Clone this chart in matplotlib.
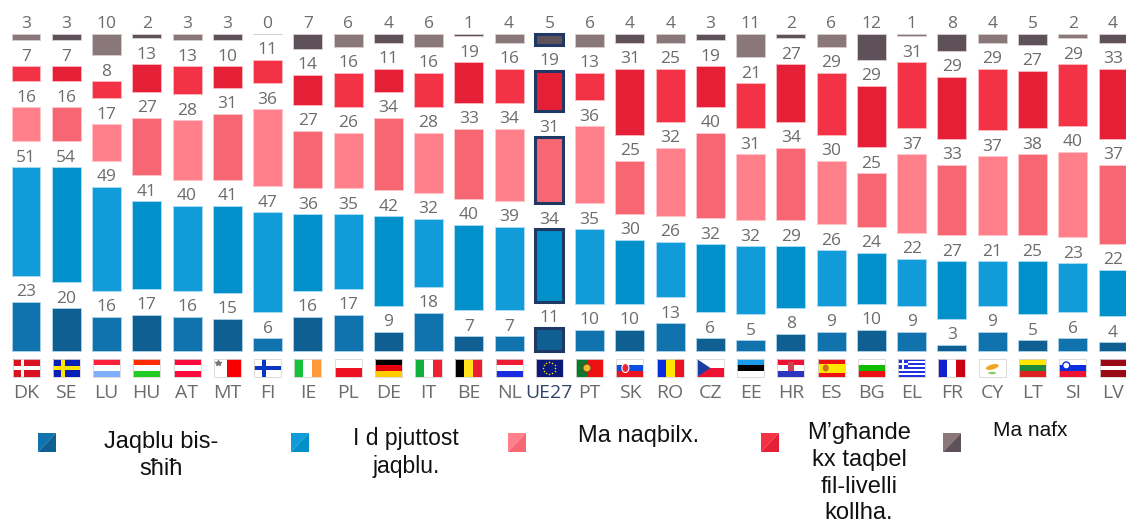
import matplotlib
matplotlib.use('Agg')
import matplotlib.pyplot as plt
import numpy as np
from matplotlib.patches import Rectangle, Polygon, Circle, Ellipse

countries = ['DK', 'SE', 'LU', 'HU', 'AT', 'MT', 'FI', 'IE', 'PL', 'DE', 'IT', 'BE', 'NL', 'UE27',
             'PT', 'SK', 'RO', 'CZ', 'EE', 'HR', 'ES', 'BG', 'EL', 'FR', 'CY', 'LT', 'SI', 'LV']
total_yes = [23, 20, 16, 17, 16, 15, 6, 16, 17, 9, 18, 7, 7, 11, 10, 10, 13, 6, 5, 8, 9, 10, 9, 3, 9, 5, 6, 4]
rather_yes = [51, 54, 49, 41, 40, 41, 47, 36, 35, 42, 32, 40, 39, 34, 35, 30, 26, 32, 32, 29, 26, 24, 22, 27, 21, 25, 23, 22]
rather_no = [16, 16, 17, 27, 28, 31, 36, 27, 26, 34, 28, 33, 34, 31, 36, 25, 32, 40, 31, 34, 30, 25, 37, 33, 37, 38, 40, 37]
total_no = [7, 7, 8, 13, 13, 10, 11, 14, 16, 11, 16, 19, 16, 19, 13, 31, 25, 19, 21, 27, 29, 29, 31, 29, 29, 27, 29, 33]
dont_know = [3, 3, 10, 2, 3, 3, 0, 7, 6, 4, 6, 1, 4, 5, 6, 4, 4, 3, 11, 2, 6, 12, 1, 8, 4, 5, 2, 4]

series = [total_yes, rather_yes, rather_no, total_no, dont_know]
light = ['#1173ad', '#119cd9', '#ff7f8a', '#f43246', '#8a7779']
dark = ['#0f5f93', '#0290cb', '#f66673', '#e51f36', '#5f515a']
edges = ['#a9cfe6', '#a9dcf2', '#ffc4c9', '#fbb4bc', '#d3cbcc']
legend_labels = ['Jaqblu bis-\nsħiħ', 'I d pjuttost\njaqblu.', 'Ma naqbilx.',
                 'M’għande\nkx taqbel\nfil-livelli\nkollha.', 'Ma nafx']

W, H = 1126, 524
grey = '#6f6a6b'
navy = '#1f3864'
plt.rcParams['font.family'] = ['Open Sans', 'DejaVu Sans']

fig = plt.figure(figsize=(W / 100, H / 100), dpi=100)

# bars in percent units, scaled so one percent is about 2.13 px
ax = fig.add_axes([0, 0, 1, 1])
px_per_unit = 2.13
x0, step = 26.0, 40.26
base_px = 351.0
gap = 26.0 / px_per_unit
ax.set_xlim(-x0 / step, (W - x0) / step)
ax.set_ylim((base_px - H) / px_per_unit, base_px / px_per_unit)
ax.axis('off')

x = np.arange(len(countries))
bottoms = np.zeros(len(countries))
for s, vals in enumerate(series):
    vals = np.array(vals, dtype=float)
    for i in x:
        c = light[s] if i % 2 == 0 else dark[s]
        if countries[i] == 'UE27':
            ax.bar(i, vals[i], 0.70, bottom=bottoms[i], color=c, edgecolor=navy, linewidth=2.2)
        else:
            ax.bar(i, vals[i], 0.72, bottom=bottoms[i], color=c, edgecolor=edges[s], linewidth=0.7)
        ax.annotate(str(int(vals[i])), (i, bottoms[i] + vals[i]), xytext=(0, 4), textcoords='offset points',
                    ha='center', va='baseline', fontsize=12.5, color=grey)
    bottoms = bottoms + vals + gap

# second axes in pixels for the flags and the legend
ov = fig.add_axes([0, 0, 1, 1])
ov.set_xlim(0, W)
ov.set_ylim(H, 0)
ov.axis('off')
ov.patch.set_alpha(0)

FW, FH = 27.0, 18.0
FY = 359.0


def rect(fx, a, b, c, d, color):
    # a,b,c,d are fractions of the flag box
    ov.add_patch(Rectangle((fx + a * FW, FY + b * FH), c * FW, d * FH, fc=color, ec='none'))


def hstripes(fx, colors, sizes=None):
    sizes = sizes or [1] * len(colors)
    pos = 0
    for col, sz in zip(colors, sizes):
        rect(fx, 0, pos / sum(sizes), 1, sz / sum(sizes), col)
        pos += sz


def vstripes(fx, colors, sizes=None):
    sizes = sizes or [1] * len(colors)
    pos = 0
    for col, sz in zip(colors, sizes):
        rect(fx, pos / sum(sizes), 0, sz / sum(sizes), 1, col)
        pos += sz


def cross(fx, bg, fg):
    rect(fx, 0, 0, 1, 1, bg)
    rect(fx, 0.30, 0, 0.14, 1, fg)
    rect(fx, 0, 0.40, 1, 0.2, fg)


def draw_flag(code, fx):
    cx = fx + FW / 2
    cy = FY + FH / 2
    if code == 'DK':
        cross(fx, '#d8121f', 'white')
    elif code == 'SE':
        cross(fx, '#0a1fb5', '#ffe500')
    elif code == 'LU':
        hstripes(fx, ['#ff1f3a', 'white', '#7fb0ff'])
    elif code == 'HU':
        hstripes(fx, ['#ff2a00', 'white', '#22cc22'])
    elif code == 'AT':
        hstripes(fx, ['#ff0a3c', 'white', '#ff0a3c'])
    elif code == 'MT':
        vstripes(fx, ['white', '#f90000'])
        ov.plot(fx + 4, FY + 4, marker='*', ms=4, color='#777777')
    elif code == 'FI':
        cross(fx, 'white', '#0a35c0')
    elif code == 'IE':
        vstripes(fx, ['#16c23a', 'white', '#ff9a3c'])
    elif code == 'PL':
        hstripes(fx, ['white', '#ee1122'])
    elif code == 'DE':
        hstripes(fx, ['black', '#e8000f', '#ffcc00'])
    elif code == 'IT':
        vstripes(fx, ['#11b03c', 'white', '#ee2233'])
    elif code == 'BE':
        vstripes(fx, ['black', '#ffe21a', '#ee1c2e'])
    elif code == 'NL':
        hstripes(fx, ['#ee1c33', 'white', '#1a2ee0'])
    elif code == 'UE27':
        rect(fx, 0, 0, 1, 1, '#0b1a78')
        for a in np.linspace(0, 2 * np.pi, 12, endpoint=False):
            ov.plot(cx + 6 * np.cos(a), cy + 6 * np.sin(a), marker='o', ms=1.1, color='#ffe000', mew=0)
    elif code == 'PT':
        vstripes(fx, ['#0a7a2a', '#ee1111'], [2, 3])
        ov.add_patch(Circle((fx + 0.4 * FW, cy), 4, fc='#e8c030', ec='#a03020', lw=0.8))
    elif code == 'SK':
        hstripes(fx, ['white', '#0b4ee0', '#ee1122'])
        ov.add_patch(Ellipse((fx + 9, cy), 7, 9, fc='#ee2233', ec='white', lw=0.8))
    elif code == 'RO':
        vstripes(fx, ['#0a2ce0', '#ffe600', '#ee1122'])
    elif code == 'CZ':
        hstripes(fx, ['white', '#ee1133'])
        ov.add_patch(Polygon([(fx, FY), (fx + 0.5 * FW, cy), (fx, FY + FH)], fc='#1a3ea0', ec='none'))
    elif code == 'EE':
        hstripes(fx, ['#1a9ae8', 'black', 'white'])
    elif code == 'HR':
        hstripes(fx, ['#ee1133', 'white', '#2a35c0'])
        rect(fx, 0.39, 0.18, 0.22, 0.5, '#d04050')
    elif code == 'ES':
        hstripes(fx, ['#ee1111', '#ffe600', '#ee1111'], [1, 2, 1])
        ov.add_patch(Ellipse((fx + 8, cy), 6, 7, fc='#c87020', ec='none'))
    elif code == 'BG':
        hstripes(fx, ['white', '#11bb00', '#ee1111'])
    elif code == 'EL':
        hstripes(fx, ['#2233dd', 'white'] * 4 + ['#2233dd'])
        rect(fx, 0, 0, 0.38, 0.56, '#2233dd')
        rect(fx, 0.15, 0, 0.08, 0.56, 'white')
        rect(fx, 0, 0.22, 0.38, 0.11, 'white')
    elif code == 'FR':
        vstripes(fx, ['#1122cc', 'white', '#cc0011'])
    elif code == 'CY':
        rect(fx, 0, 0, 1, 1, 'white')
        ov.add_patch(Ellipse((cx, cy - 1), 13, 5, angle=-15, fc='#f2a51e', ec='none'))
        ov.add_patch(Ellipse((cx, cy + 5), 8, 2.5, fc='#8ecb6a', ec='none'))
    elif code == 'LT':
        hstripes(fx, ['#ffe500', '#1f8a3a', '#dd2222'])
    elif code == 'SI':
        hstripes(fx, ['white', '#0b2ee0', '#ee1133'])
        ov.add_patch(Circle((fx + 7, FY + 6.5), 3.5, fc='white', ec='#0b2ee0', lw=1))
    elif code == 'LV':
        hstripes(fx, ['#9a0a14', 'white', '#9a0a14'], [2, 1, 2])


for i, code in enumerate(countries):
    cx = x0 + step * i
    fx = cx - FW / 2
    draw_flag(code, fx)
    # thin frame keeps the white flags visible
    ov.add_patch(Rectangle((fx, FY), FW, FH, fc='none', ec='#d9d4d4', lw=0.6))
    ov.text(cx, 398, code, ha='center', va='baseline', fontsize=14,
            color='#2f4468' if code == 'UE27' else grey)

# legend
swatch_x = [38, 291, 508, 761, 943]
swatch_y = [433, 433, 433, 433, 433]
text_x = [161, 406, 639, 859, 1030]
text_y = [431, 427, 425, 422, 421]
text_size = [17, 16.5, 17, 17, 15]
line_h = 1.28
for s in range(5):
    sx, sy = swatch_x[s], swatch_y[s]
    ov.add_patch(Polygon([(sx, sy), (sx + 18, sy), (sx, sy + 19)], fc=light[s], ec='none'))
    ov.add_patch(Polygon([(sx + 18, sy), (sx + 18, sy + 19), (sx, sy + 19)], fc=dark[s], ec='none'))
    ov.text(text_x[s], text_y[s], legend_labels[s], ha='center', va='top', fontsize=text_size[s],
            family='Liberation Sans', color='#111111', linespacing=line_h)

fig.savefig('out.png', dpi=100)
